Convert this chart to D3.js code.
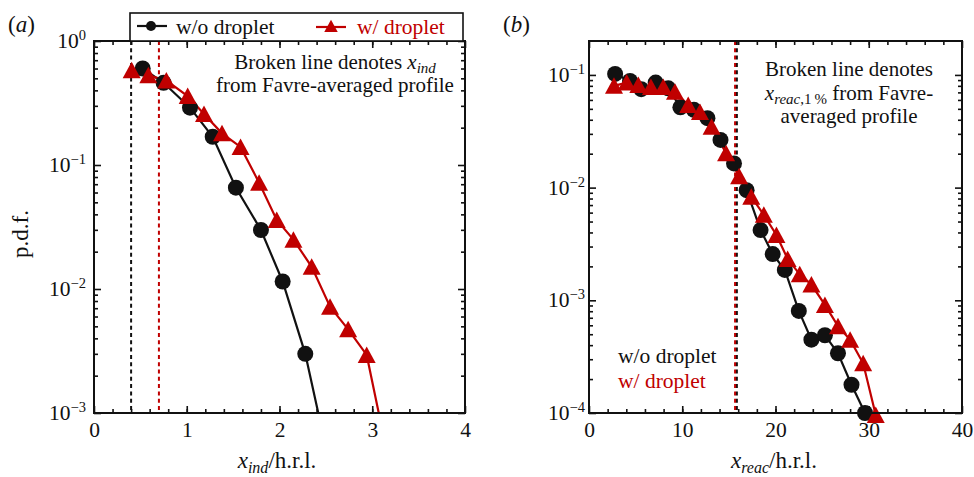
<!DOCTYPE html>
<html><head><meta charset="utf-8">
<script src="https://cdn.jsdelivr.net/npm/d3@7"></script>
<style>
body{margin:0;background:#fff}
svg{display:block}
svg text, svg tspan{font-family:"Liberation Serif","DejaVu Serif",serif !important}
</style>
</head><body>
<svg id="c" width="974" height="477" font-family="Liberation Serif"></svg>
<script>
const RED = "#c00000";
const FONT = "'Liberation Serif', 'DejaVu Serif', serif";

// ---------- Panel (a) data ----------
const aXTicks = [0, 1, 2, 3, 4];
const aYTicks = [1e-3, 1e-2, 1e-1, 1];
const aYTickExp = ["\u22123", "\u22122", "\u22121", "0"];
const aCircleX = [0.525, 0.75, 1.035, 1.28, 1.53, 1.80, 2.034, 2.278, 2.52];
const aCircleY = [0.60, 0.46, 0.29, 0.169, 0.0656, 0.0299, 0.0115, 0.0030, 0.00045];
const aTriX = [0.406, 0.586, 0.78, 1.01, 1.186, 1.38, 1.58, 1.78, 1.97, 2.15, 2.347, 2.545, 2.74, 2.94, 3.14];
const aTriY = [0.58, 0.53, 0.48, 0.36, 0.258, 0.18, 0.14, 0.072, 0.036, 0.025, 0.0151, 0.0072, 0.00473, 0.00294, 0.00056];
const aDashX = [0.4, 0.7]; // black, red

// ---------- Panel (b) data ----------
const bXTicks = [0, 10, 20, 30, 40];
const bYTicks = [1e-4, 1e-3, 1e-2, 1e-1];
const bYTickExp = ["\u22124", "\u22123", "\u22122", "\u22121"];
const bCircleX = [2.8, 4.4, 5.6, 7.15, 8.5, 9.8, 11.25, 12.7, 14.1, 15.55, 16.9, 18.4, 19.7, 21.0, 22.5, 23.85, 25.3, 26.7, 28.15, 29.6];
const bCircleY = [0.102, 0.0885, 0.0747, 0.0855, 0.076, 0.0516, 0.049, 0.0413, 0.0265, 0.0164, 0.0095, 0.0042, 0.00257, 0.00186, 0.000805, 0.000447, 0.00049, 0.000339, 0.000178, 0.0001];
const bTriX = [2.68, 4.04, 5.29, 6.64, 7.97, 9.22, 10.64, 11.9, 13.15, 14.7, 16.1, 17.4, 18.75, 20.1, 21.3, 22.6, 23.85, 25.3, 26.7, 28.0, 29.4, 30.75];
const bTriY = [0.080, 0.0855, 0.0815, 0.078, 0.078, 0.071, 0.054, 0.047, 0.0347, 0.0202, 0.0126, 0.0083, 0.00573, 0.0038, 0.00233, 0.0017, 0.00138, 0.00091, 0.00059, 0.000447, 0.000276, 0.000096];
const bDashX = [15.75];

const legendLabels = ["w/o droplet", "w/ droplet"];

const svg = d3.select("#c");
const TRI = "M0,-8.5L9,8L-9,8Z";

function T(parent, x, y, size) {
  return parent.append("text").attr("x", x).attr("y", y).attr("font-size", size)
    .style("font-family", FONT).style("fill", "#111");
}

function logMinors(lo, hi) {
  const out = [];
  for (let e = Math.floor(Math.log10(lo)); e <= Math.ceil(Math.log10(hi)); e++) {
    for (let k = 2; k <= 9; k++) {
      const v = k * Math.pow(10, e);
      if (v > lo && v < hi) out.push(v);
    }
  }
  return out;
}
function linMinors(lo, hi, step) {
  const out = [];
  const n = Math.round((hi - lo) / step);
  for (let i = 1; i < n; i++) out.push(lo + i * step);
  return out;
}

function panel(cfg) {
  const {left, right, top, bottom, xDom, yDom, xTicks, xMinorStep, yTicks, yExp, yPad, id} = cfg;
  const x = d3.scaleLinear().domain(xDom).range([left, right]);
  const y = d3.scaleLog().domain(yDom).range([bottom, top]);
  const g = svg.append("g");

  g.append("clipPath").attr("id", id).append("rect")
    .attr("x", left).attr("y", top).attr("width", right - left).attr("height", bottom - top);

  const xMin = linMinors(xDom[0], xDom[1], xMinorStep);
  const yMin = logMinors(yDom[0], yDom[1]);

  const styleAxis = sel => {
    sel.attr("font-family", null).attr("font-size", null);
    sel.select(".domain").remove();
    sel.selectAll(".tick line").attr("stroke", "#111").attr("stroke-width", 1.6);
    sel.selectAll("text").style("font-family", FONT).style("fill", "#111");
  };

  g.append("g").attr("transform", `translate(0,${bottom})`)
    .call(d3.axisBottom(x).tickValues(xTicks).tickSize(-7).tickPadding(9).tickFormat(d3.format("d")))
    .call(styleAxis).call(s => s.selectAll("text").attr("font-size", 21.5));
  g.append("g").attr("transform", `translate(0,${bottom})`)
    .call(d3.axisBottom(x).tickValues(xMin).tickSize(-4).tickFormat("")).call(styleAxis);
  g.append("g").attr("transform", `translate(0,${top})`)
    .call(d3.axisTop(x).tickValues(xTicks).tickSize(-7).tickFormat("")).call(styleAxis);
  g.append("g").attr("transform", `translate(0,${top})`)
    .call(d3.axisTop(x).tickValues(xMin).tickSize(-4).tickFormat("")).call(styleAxis);
  g.append("g").attr("transform", `translate(${left},0)`)
    .call(d3.axisLeft(y).tickValues(yTicks).tickSize(-7).tickPadding(yPad).tickFormat(""))
    .call(styleAxis)
    .call(s => s.selectAll(".tick text").each(function(d) {
      const t = d3.select(this).attr("font-size", 21.5).attr("dy", "0.3em");
      t.append("tspan").text("10");
      t.append("tspan").attr("font-size", 14.5).attr("dy", "-0.55em").text(yExp[yTicks.indexOf(d)]);
    }));
  g.append("g").attr("transform", `translate(${left},0)`)
    .call(d3.axisLeft(y).tickValues(yMin).tickSize(-4).tickFormat("")).call(styleAxis);
  g.append("g").attr("transform", `translate(${right},0)`)
    .call(d3.axisRight(y).tickValues(yTicks).tickSize(-7).tickFormat("")).call(styleAxis);
  g.append("g").attr("transform", `translate(${right},0)`)
    .call(d3.axisRight(y).tickValues(yMin).tickSize(-4).tickFormat("")).call(styleAxis);

  const plot = g.append("g");
  const clipped = plot.append("g").attr("clip-path", `url(#${id})`);
  return {x, y, g, plot, clipped, left, right, top, bottom, yDom};
}

function drawSeries(p, xs, ys, color, kind) {
  const pts = xs.map((v, i) => [v, ys[i]]);
  const line = d3.line().x(d => p.x(d[0])).y(d => p.y(d[1]));
  p.clipped.append("path").datum(pts).attr("d", line)
    .attr("fill", "none").attr("stroke", color).attr("stroke-width", 2.2);
  const vis = pts.filter(d => d[1] >= p.yDom[0] * 0.9);
  if (kind === "circle") {
    p.plot.append("g").selectAll("circle").data(vis).join("circle")
      .attr("cx", d => p.x(d[0])).attr("cy", d => p.y(d[1])).attr("r", 8).attr("fill", color);
  } else {
    p.plot.append("g").selectAll("path").data(vis).join("path")
      .attr("d", TRI).attr("transform", d => `translate(${p.x(d[0])},${p.y(d[1])})`).attr("fill", color);
  }
}

// ---------- Panel (a) ----------
const pa = panel({id: "clipA", left: 94, right: 465, top: 41, bottom: 413,
  xDom: [0, 4], yDom: [1e-3, 1], xTicks: aXTicks, xMinorStep: 0.2, yTicks: aYTicks, yExp: aYTickExp, yPad: 8});

pa.clipped.selectAll("line.dash").data(aDashX).join("line")
  .attr("x1", d => pa.x(d)).attr("x2", d => pa.x(d)).attr("y1", pa.top).attr("y2", pa.bottom)
  .attr("stroke", (d, i) => i === 0 ? "#111" : RED).attr("stroke-width", 2).attr("stroke-dasharray", "4,3.3");

drawSeries(pa, aCircleX, aCircleY, "#111", "circle");
drawSeries(pa, aTriX, aTriY, RED, "tri");

pa.g.append("rect").attr("x", pa.left).attr("y", pa.top).attr("width", pa.right - pa.left).attr("height", pa.bottom - pa.top)
  .attr("fill", "none").attr("stroke", "#111").attr("stroke-width", 2);

const annA = T(pa.g, 335, 69, 21).attr("text-anchor", "middle");
annA.append("tspan").text("Broken line denotes ");
annA.append("tspan").attr("font-style", "italic").text("x");
annA.append("tspan").attr("font-style", "italic").attr("font-size", 15).attr("dy", 4).text("ind");
T(pa.g, 335, 92, 21).attr("text-anchor", "middle").text("from Favre-averaged profile");

// legend
const lg = svg.append("g");
lg.append("rect").attr("x", 130).attr("y", 13).attr("width", 333).attr("height", 28)
  .attr("fill", "#fff").attr("stroke", "#111").attr("stroke-width", 1.6);
lg.append("line").attr("x1", 137).attr("x2", 167).attr("y1", 26).attr("y2", 26).attr("stroke", "#111").attr("stroke-width", 2.2);
lg.append("circle").attr("cx", 151).attr("cy", 26).attr("r", 5).attr("fill", "#111");
T(lg, 176, 34, 21.5).text(legendLabels[0]);
lg.append("line").attr("x1", 316).attr("x2", 346).attr("y1", 27).attr("y2", 27).attr("stroke", RED).attr("stroke-width", 2.2);
lg.append("path").attr("d", TRI).attr("transform", "translate(331,26) scale(0.75)").attr("fill", RED);
T(lg, 357, 34, 21.5).style("fill", RED).text(legendLabels[1]);

const xtA = T(svg, 277, 468, 23).attr("text-anchor", "middle");
xtA.append("tspan").attr("font-style", "italic").text("x");
xtA.append("tspan").attr("font-style", "italic").attr("font-size", 16).attr("dy", 5).text("ind");
xtA.append("tspan").attr("dy", -5).text("/h.r.l.");
T(svg, 0, 0, 23).attr("x", null).attr("y", null)
  .attr("transform", "translate(28,234) rotate(-90)").attr("text-anchor", "middle").text("p.d.f.");
const labA = T(svg, 8, 32, 23);
labA.append("tspan").text("(");
labA.append("tspan").attr("font-style", "italic").text("a");
labA.append("tspan").text(")");

// ---------- Panel (b) ----------
const pb = panel({id: "clipB", left: 589, right: 962, top: 41, bottom: 413,
  xDom: [0, 40], yDom: [1e-4, 0.2], xTicks: bXTicks, xMinorStep: 2, yTicks: bYTicks, yExp: bYTickExp, yPad: 4});

pb.clipped.selectAll("line.dk").data(bDashX).join("line")
  .attr("x1", d => pb.x(d) + 1).attr("x2", d => pb.x(d) + 1).attr("y1", pb.top).attr("y2", pb.bottom)
  .attr("stroke", "#111").attr("stroke-width", 2).attr("stroke-dasharray", "4,3.3");
pb.clipped.selectAll("line.rd").data(bDashX).join("line")
  .attr("x1", d => pb.x(d) - 0.8).attr("x2", d => pb.x(d) - 0.8).attr("y1", pb.top).attr("y2", pb.bottom)
  .attr("stroke", RED).attr("stroke-width", 2).attr("stroke-dasharray", "4,3.3");

drawSeries(pb, bCircleX, bCircleY, "#111", "circle");
drawSeries(pb, bTriX, bTriY, RED, "tri");

pb.g.append("rect").attr("x", pb.left).attr("y", pb.top).attr("width", pb.right - pb.left).attr("height", pb.bottom - pb.top)
  .attr("fill", "none").attr("stroke", "#111").attr("stroke-width", 2);

T(pb.g, 849, 76, 21).attr("text-anchor", "middle").text("Broken line denotes");
const annB = T(pb.g, 849, 100, 21).attr("text-anchor", "middle");
annB.append("tspan").attr("font-style", "italic").text("x");
annB.append("tspan").attr("font-style", "italic").attr("font-size", 15).attr("dy", 4).text("reac");
annB.append("tspan").attr("font-size", 15).text(",1\u2009%");
annB.append("tspan").attr("dy", -4).text(" from Favre-");
T(pb.g, 849, 123, 21).attr("text-anchor", "middle").text("averaged profile");

T(pb.g, 618, 363, 21.5).text(legendLabels[0]);
T(pb.g, 618, 388, 21.5).style("fill", RED).text(legendLabels[1]);

const xtB = T(svg, 774, 468, 23).attr("text-anchor", "middle");
xtB.append("tspan").attr("font-style", "italic").text("x");
xtB.append("tspan").attr("font-style", "italic").attr("font-size", 16).attr("dy", 5).text("reac");
xtB.append("tspan").attr("dy", -5).text("/h.r.l.");
const labB = T(svg, 503, 32, 23);
labB.append("tspan").text("(");
labB.append("tspan").attr("font-style", "italic").text("b");
labB.append("tspan").text(")");
</script>
</body></html>
